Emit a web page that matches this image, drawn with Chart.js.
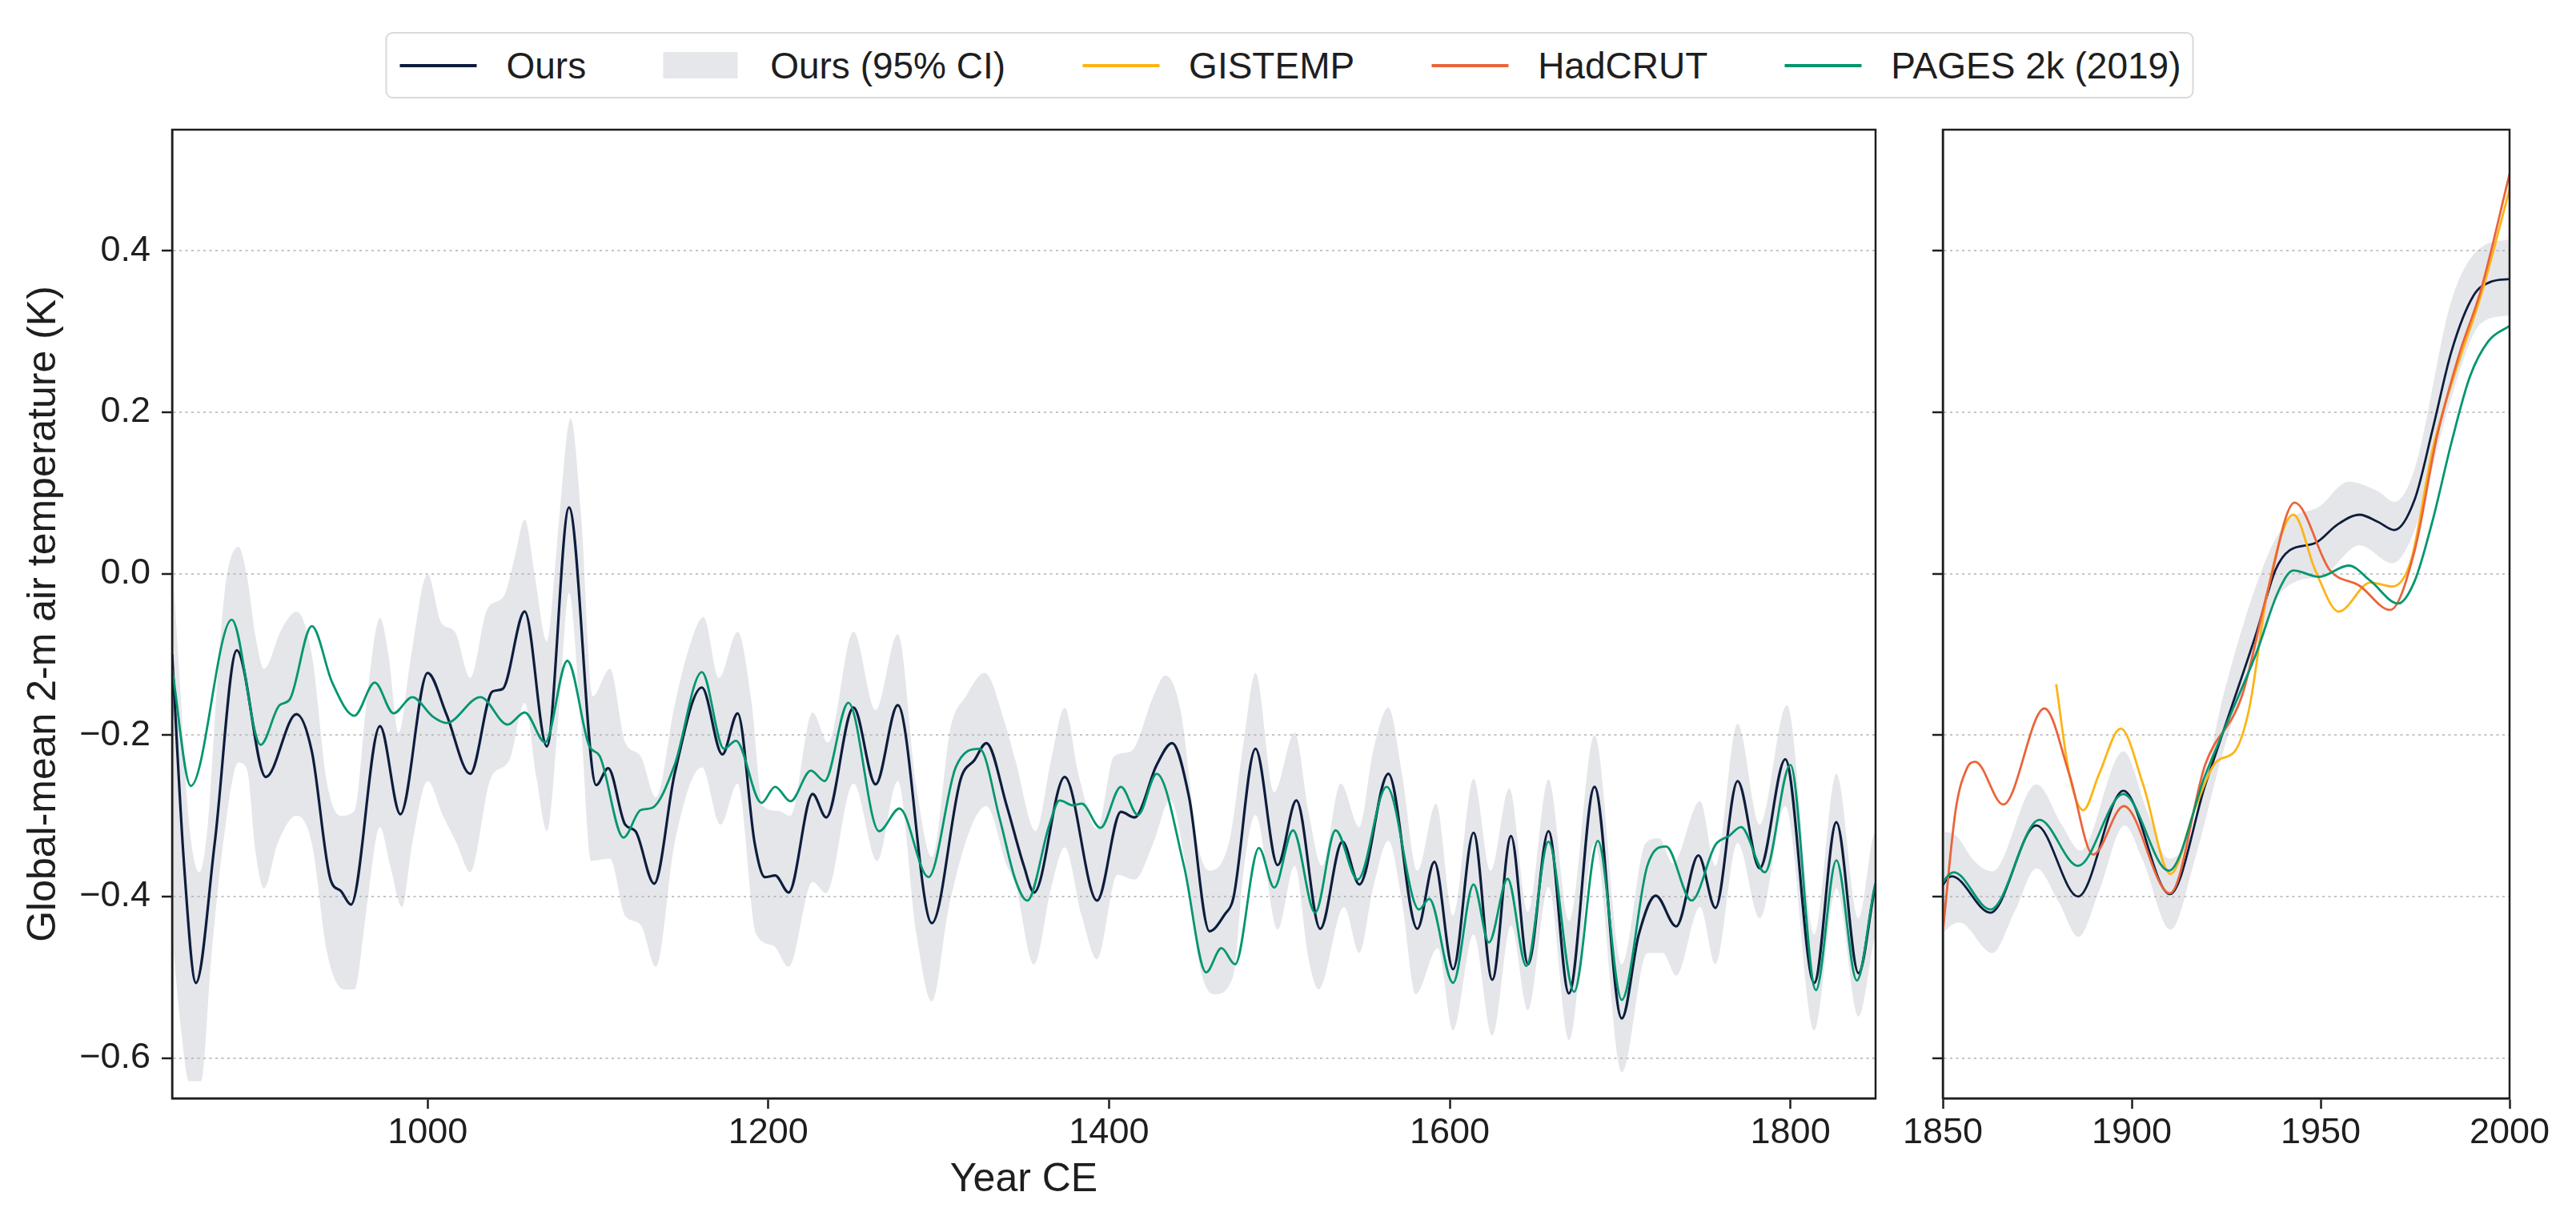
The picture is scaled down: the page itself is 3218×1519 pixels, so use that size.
<!DOCTYPE html>
<html>
<head>
<meta charset="utf-8">
<script src="https://cdn.jsdelivr.net/npm/chart.js@4.4.0/dist/chart.umd.min.js"></script>
<style>
  html, body { margin: 0; padding: 0; background: #fff; }
  #wrap { position: relative; width: 3218px; height: 1519px; font-family: "Liberation Sans", Arial, sans-serif; color: #1e1e1e; }
  #c1 { position: absolute; left: 0; top: 0; }
  #c2 { position: absolute; left: 2360px; top: 0; }
  #legend {
    position: absolute; top: 40px; left: 1611px; transform: translateX(-50%);
    height: 79px; border: 2px solid #d9d9d9; border-radius: 9px; background: #fff;
    display: flex; align-items: center; padding: 0 14px 0 16px; white-space: nowrap; font-size: 46px;
  }
  .item { display: flex; align-items: center; margin-right: 96px; }
  .item:last-child { margin-right: 0; }
  .line { width: 96px; height: 4px; margin-right: 37px; }
  .patch { width: 93px; height: 33px; margin-right: 41px; }
</style>
</head>
<body>
<div id="wrap">
  <canvas id="c1" width="2380" height="1519"></canvas>
  <canvas id="c2" width="858" height="1519"></canvas>
  <div id="legend"></div>
</div>
<script>
// --- data (year CE, K) ---
const oursYears = [850, 857, 864, 875, 888, 905, 923, 932, 943, 949, 955, 972, 984, 1000, 1011,
  1025, 1038, 1044, 1057, 1070, 1083, 1099, 1106, 1116, 1122, 1133, 1145, 1161, 1173, 1182,
  1192, 1198, 1204, 1212, 1226, 1234, 1250, 1263, 1276, 1296, 1313, 1321, 1328, 1340, 1350,
  1356, 1374, 1393, 1407, 1415, 1428, 1437, 1447, 1459, 1468, 1473, 1486, 1499, 1510, 1524,
  1537, 1547, 1564, 1581, 1591, 1602, 1614, 1625, 1636, 1646, 1658, 1670, 1685, 1701, 1711,
  1721, 1733, 1746, 1756, 1769, 1782, 1797, 1814, 1827, 1840, 1850,
  1852.4, 1862.6, 1874.8, 1885.8, 1897.8, 1910.1, 1919.5, 1926.3, 1933.1, 1938, 1941.8,
  1948.6, 1954.5, 1960.3, 1965.2, 1969.5, 1974.9, 1979.7, 1984.6, 1990.4, 1995.3, 2000];
const oursTemp = [-0.10, -0.36, -0.507, -0.334, -0.095, -0.252, -0.174, -0.22, -0.379, -0.393, -0.41, -0.189, -0.298, -0.123, -0.174,
  -0.248, -0.146, -0.143, -0.047, -0.214, 0.082, -0.262, -0.241, -0.311, -0.319, -0.384, -0.248, -0.141, -0.224, -0.173,
  -0.334, -0.376, -0.374, -0.395, -0.273, -0.302, -0.166, -0.261, -0.163, -0.433, -0.254, -0.231, -0.21, -0.288, -0.362,
  -0.395, -0.252, -0.405, -0.295, -0.302, -0.237, -0.21, -0.277, -0.443, -0.422, -0.402, -0.217, -0.361, -0.281, -0.44,
  -0.332, -0.385, -0.248, -0.44, -0.357, -0.49, -0.321, -0.503, -0.325, -0.484, -0.319, -0.52, -0.264, -0.551, -0.447,
  -0.399, -0.437, -0.349, -0.414, -0.257, -0.365, -0.23, -0.507, -0.308, -0.495, -0.386,
  -0.375, -0.42, -0.312, -0.40, -0.269, -0.397, -0.261, -0.167, -0.072, 0.004, 0.029,
  0.038, 0.061, 0.073, 0.064, 0.054, 0.092, 0.18, 0.275, 0.344, 0.362, 0.365];

const ciUpYears = [850, 855, 860, 866, 871, 876, 881, 889, 894, 899, 904, 914, 923, 932, 941,
  949, 957, 964, 972, 977, 983, 990, 1000, 1008, 1016, 1025, 1035, 1045, 1051, 1057,
  1063, 1070, 1076, 1084, 1090, 1097, 1107, 1116, 1125, 1134, 1145, 1153, 1162, 1171, 1182,
  1190, 1197, 1206, 1213, 1226, 1235, 1250, 1263, 1276, 1287, 1296, 1307, 1316, 1327, 1339,
  1345, 1357, 1366, 1374, 1382, 1393, 1403, 1413, 1426, 1433, 1442, 1452, 1459, 1471, 1479,
  1486, 1497, 1509, 1517, 1525, 1536, 1547, 1555, 1564, 1572, 1581, 1592, 1602, 1614, 1624,
  1635, 1646, 1658, 1670, 1685, 1701, 1715, 1723, 1731, 1747, 1756, 1769, 1782, 1798, 1814,
  1827, 1840, 1850,
  1853.4, 1858.3, 1863.1, 1874.8, 1881.6, 1886.4, 1897.8, 1904, 1909.8, 1916.6, 1924.4,
  1936, 1941.8, 1949.6, 1957.4, 1965.2, 1969.5, 1974.9, 1984.6, 1992.4, 2000];
const ciUp = [0.02, -0.15, -0.31, -0.37, -0.31, -0.15, -0.02, 0.033, -0.004, -0.078, -0.118, -0.07, -0.047, -0.10, -0.26,
  -0.30, -0.294, -0.163, -0.055, -0.10, -0.197, -0.106, -0.001, -0.061, -0.072, -0.129, -0.044, -0.027, 0.019, 0.067,
  -0.004, -0.084, 0.036, 0.192, 0.076, -0.152, -0.118, -0.209, -0.226, -0.277, -0.163, -0.095, -0.054, -0.129, -0.072,
  -0.157, -0.288, -0.294, -0.30, -0.172, -0.209, -0.072, -0.169, -0.075, -0.265, -0.351, -0.191, -0.152, -0.123, -0.186,
  -0.231, -0.319, -0.231, -0.166, -0.248, -0.316, -0.226, -0.22, -0.152, -0.126, -0.169, -0.334, -0.368, -0.328, -0.209,
  -0.123, -0.271, -0.197, -0.294, -0.362, -0.26, -0.314, -0.22, -0.166, -0.248, -0.368, -0.285, -0.424, -0.254, -0.368,
  -0.266, -0.419, -0.255, -0.43, -0.20, -0.484, -0.334, -0.328, -0.359, -0.282, -0.362, -0.186, -0.311, -0.163, -0.447,
  -0.248, -0.427, -0.32,
  -0.324, -0.356, -0.369, -0.261, -0.312, -0.343, -0.22, -0.293, -0.353, -0.312, -0.148,
  0.023, 0.067, 0.083, 0.114, 0.102, 0.089, 0.13, 0.338, 0.404, 0.414];

const ciLoYears = [850, 855, 860, 867, 873, 880, 889, 894, 899, 904, 912, 923, 932, 941, 951,
  957, 964, 972, 978, 985, 991, 1000, 1009, 1017, 1025, 1037, 1048, 1057, 1064, 1070,
  1077, 1083, 1090, 1096, 1107, 1116, 1125, 1134, 1145, 1161, 1172, 1182, 1193, 1203, 1212,
  1226, 1234, 1250, 1264, 1276, 1287, 1296, 1306, 1319, 1328, 1340, 1345, 1356, 1366, 1374,
  1384, 1393, 1405, 1415, 1426, 1436, 1445, 1454, 1462, 1473, 1479, 1486, 1499, 1509, 1517,
  1523, 1538, 1547, 1555, 1564, 1572, 1580, 1593, 1602, 1614, 1625, 1636, 1646, 1658, 1670,
  1685, 1701, 1716, 1725, 1733, 1747, 1756, 1769, 1782, 1797, 1814, 1827, 1840, 1850,
  1854.4, 1863.1, 1869, 1874.8, 1880.6, 1885.9, 1891.3, 1898.1, 1903, 1910.3, 1916.6,
  1924.4, 1931.2, 1938, 1943.8, 1950.6, 1960.3, 1969, 1974.9, 1984.6, 1992.4, 2000];
const ciLo = [-0.447, -0.56, -0.629, -0.629, -0.476, -0.334, -0.234, -0.243, -0.345, -0.39, -0.334, -0.30, -0.334, -0.47, -0.515,
  -0.515, -0.419, -0.314, -0.362, -0.413, -0.334, -0.257, -0.30, -0.334, -0.37, -0.254, -0.231, -0.16, -0.254, -0.319,
  -0.174, -0.024, -0.186, -0.356, -0.353, -0.424, -0.435, -0.487, -0.334, -0.24, -0.311, -0.26, -0.447, -0.461, -0.487,
  -0.382, -0.396, -0.26, -0.356, -0.257, -0.447, -0.53, -0.413, -0.314, -0.288, -0.362, -0.385, -0.484, -0.39, -0.339,
  -0.424, -0.478, -0.373, -0.379, -0.334, -0.28, -0.362, -0.493, -0.521, -0.498, -0.368, -0.299, -0.441, -0.362, -0.476,
  -0.515, -0.413, -0.47, -0.39, -0.331, -0.407, -0.521, -0.464, -0.566, -0.447, -0.572, -0.436, -0.541, -0.388, -0.578,
  -0.334, -0.618, -0.47, -0.47, -0.498, -0.413, -0.484, -0.334, -0.427, -0.288, -0.566, -0.39, -0.549, -0.447,
  -0.432, -0.47, -0.419, -0.365, -0.406, -0.45, -0.394, -0.312, -0.356, -0.441, -0.356,
  -0.217, -0.122, -0.034, -0.009, -0.003, 0.035, 0.013, 0.054, 0.218, 0.31, 0.32];

const pagesYears = [850, 861, 885, 902, 913, 919, 932, 944, 957, 969, 980, 991, 1003, 1011, 1031,
  1047, 1057, 1069, 1082, 1095, 1101, 1115, 1125, 1132, 1145, 1161, 1174, 1181, 1196, 1204,
  1213, 1225, 1233, 1247, 1265, 1277, 1294, 1310, 1324, 1336, 1345, 1352, 1365, 1371, 1379,
  1384, 1395, 1407, 1417, 1428, 1444, 1457, 1466, 1474, 1488, 1497, 1508, 1521, 1533, 1546,
  1563, 1582, 1588, 1602, 1614, 1623, 1634, 1645, 1658, 1673, 1687, 1701, 1716, 1727, 1742,
  1756, 1764, 1771, 1785, 1800, 1815, 1827, 1839, 1850,
  1852.9, 1862.6, 1875.6, 1885.8, 1897.8, 1909.8, 1919.5, 1926.3, 1933.1, 1938.9, 1942.8,
  1949.6, 1957.4, 1963.2, 1970.5, 1974.9, 1979.7, 1984.6, 1989.5, 1994.4, 2000];
const pagesTemp = [-0.118, -0.263, -0.057, -0.212, -0.163, -0.156, -0.065, -0.135, -0.176, -0.135, -0.173, -0.153, -0.177, -0.185, -0.153,
  -0.187, -0.172, -0.209, -0.108, -0.214, -0.226, -0.327, -0.293, -0.29, -0.237, -0.122, -0.217, -0.207, -0.284, -0.264,
  -0.282, -0.244, -0.257, -0.16, -0.319, -0.291, -0.376, -0.24, -0.217, -0.305, -0.379, -0.405, -0.311, -0.281, -0.287,
  -0.285, -0.315, -0.264, -0.299, -0.248, -0.362, -0.494, -0.464, -0.484, -0.34, -0.389, -0.318, -0.42, -0.318, -0.379,
  -0.264, -0.416, -0.403, -0.507, -0.385, -0.457, -0.378, -0.486, -0.332, -0.518, -0.331, -0.528, -0.362, -0.338, -0.405,
  -0.336, -0.325, -0.314, -0.37, -0.237, -0.516, -0.355, -0.504, -0.383,
  -0.37, -0.416, -0.305, -0.362, -0.273, -0.368, -0.249, -0.173, -0.097, -0.021, 0.004,
  -0.004, 0.01, -0.009, -0.037, -0.009, 0.067, 0.162, 0.244, 0.288, 0.307];

const gistempYears = [1880, 1883.5, 1887.2, 1891.3, 1897.1, 1903, 1910.3, 1916.6, 1922.4, 1927.3, 1931.1,
  1936, 1942.8, 1948.6, 1954.8, 1963.2, 1969, 1973.9, 1979.7, 1986.5, 1992.4, 2000];
const gistempTemp = [-0.137, -0.249, -0.293, -0.249, -0.192, -0.261, -0.372, -0.293, -0.233, -0.22, -0.167,
  -0.021, 0.073, 0.004, -0.047, -0.011, -0.016, 0.016, 0.155, 0.262, 0.344, 0.476];

const hadcrutYears = [1850, 1853.4, 1856.3, 1858.6, 1866, 1876.9, 1883.5, 1889.8, 1897.9, 1910.1, 1919.5,
  1929.2, 1936, 1943.1, 1952.5, 1960.3, 1968.4, 1974.9, 1980.7, 1986.5, 1992.4, 2000];
const hadcrutTemp = [-0.444, -0.293, -0.242, -0.233, -0.286, -0.167, -0.249, -0.348, -0.288, -0.396, -0.236,
  -0.151, -0.021, 0.088, 0.004, -0.015, -0.045, 0.029, 0.168, 0.269, 0.351, 0.495];

const yTicks = [-0.6, -0.4, -0.2, 0.0, 0.2, 0.4];
const xTicksLeft = [1000, 1200, 1400, 1600, 1800];
const xTicksRight = [1850, 1900, 1950, 2000];

// --- styling ---
const navy = '#0d1d3d';
const green = '#00966f';
const yellow = '#fdb417';
const red = '#ea643b';
const ciFill = 'rgba(175, 178, 190, 0.32)';
const ink = '#1e1e1e';
const FONT = '"Liberation Sans", Arial, sans-serif';

const pts = (xs, ys) => xs.map((x, i) => ({x: x, y: ys[i]}));

function line(label, xs, ys, color, width, order) {
  return {
    label: label, data: pts(xs, ys), borderColor: color, borderWidth: width,
    pointRadius: 0, pointHoverRadius: 0, fill: false, order: order,
    cubicInterpolationMode: 'monotone'
  };
}

function ciBand() {
  return [
    {label: 'ci-lo', data: pts(ciLoYears, ciLo), borderWidth: 0, pointRadius: 0,
     fill: false, order: 10, cubicInterpolationMode: 'monotone'},
    {label: 'Ours (95% CI)', data: pts(ciUpYears, ciUp), borderWidth: 0, pointRadius: 0,
     backgroundColor: ciFill, fill: '-1', order: 10, cubicInterpolationMode: 'monotone'}
  ];
}

const frame = {
  id: 'frame',
  afterDatasetsDraw(chart) {
    const {ctx, chartArea: a} = chart;
    ctx.save();
    ctx.strokeStyle = ink;
    ctx.lineWidth = 2.5;
    ctx.strokeRect(a.left, a.top, a.right - a.left, a.bottom - a.top);
    ctx.restore();
  }
};

function scales(xMin, xMax, xTicks, yWidth, showYLabels, xTitle) {
  return {
    x: {
      type: 'linear', min: xMin, max: xMax,
      afterBuildTicks: s => { s.ticks = xTicks.map(v => ({value: v})); },
      afterFit: s => { s.height = 147; s.paddingLeft = 0; s.paddingRight = 0; },
      ticks: {color: ink, font: {family: FONT, size: 45}, padding: 4, maxRotation: 0,
              callback: v => String(v)},
      grid: {drawOnChartArea: false, drawTicks: true, tickLength: 13, tickWidth: 2.5, tickColor: ink},
      border: {color: ink, width: 2.5},
      title: {display: !!xTitle, text: xTitle || '', color: ink,
              font: {family: FONT, size: 50}, padding: {top: 0, bottom: 15}}
    },
    y: {
      type: 'linear', min: -0.65, max: 0.55,
      afterBuildTicks: s => { s.ticks = yTicks.map(v => ({value: v})); },
      afterFit: s => { s.width = yWidth; },
      ticks: {display: showYLabels, color: ink, font: {family: FONT, size: 45}, padding: 14,
              callback: v => (v < 0 ? '\u2212' : '') + Math.abs(v).toFixed(1)},
      grid: {color: '#c4c4c4', lineWidth: 2, drawTicks: true, tickLength: 13, tickWidth: 2.5,
             tickColor: ink, tickBorderDash: []},
      border: {color: ink, width: 2.5, dash: [3, 4.5]},
      title: {display: showYLabels, text: 'Global-mean 2-m air temperature (K)', color: ink,
              font: {family: FONT, size: 50}, padding: {top: 25, bottom: 0}}
    }
  };
}

function baseOptions(padRight, sc) {
  return {
    responsive: false, devicePixelRatio: 1, animation: false,
    layout: {padding: {top: 162, right: padRight, left: 0, bottom: 0}},
    plugins: {legend: {display: false}, tooltip: {enabled: false}},
    scales: sc
  };
}

new Chart(document.getElementById('c1'), {
  type: 'line',
  data: {datasets: ciBand().concat([
    line('Ours', oursYears, oursTemp, navy, 3.2, 3),
    line('PAGES 2k (2019)', pagesYears, pagesTemp, green, 2.8, 1)
  ])},
  options: baseOptions(37, scales(850, 1850, xTicksLeft, 215, true, 'Year CE')),
  plugins: [frame]
});

new Chart(document.getElementById('c2'), {
  type: 'line',
  data: {datasets: ciBand().concat([
    line('Ours', oursYears, oursTemp, navy, 2.8, 4),
    line('GISTEMP', gistempYears, gistempTemp, yellow, 2.8, 3),
    line('HadCRUT', hadcrutYears, hadcrutTemp, red, 2.8, 2),
    line('PAGES 2k (2019)', pagesYears, pagesTemp, green, 2.8, 1)
  ])},
  options: baseOptions(83, scales(1850, 2000, xTicksRight, 67, false, '')),
  plugins: [frame]
});

// --- shared legend across both panels ---
const legendItems = [
  {label: 'Ours', color: navy, kind: 'line'},
  {label: 'Ours (95% CI)', color: '#e6e7eb', kind: 'patch'},
  {label: 'GISTEMP', color: yellow, kind: 'line'},
  {label: 'HadCRUT', color: red, kind: 'line'},
  {label: 'PAGES 2k (2019)', color: green, kind: 'line'}
];
const legendEl = document.getElementById('legend');
legendItems.forEach(it => {
  const item = document.createElement('div');
  item.className = 'item';
  const sw = document.createElement('div');
  sw.className = it.kind;
  sw.style.background = it.color;
  const tx = document.createElement('span');
  tx.textContent = it.label;
  item.appendChild(sw);
  item.appendChild(tx);
  legendEl.appendChild(item);
});
</script>
</body>
</html>
